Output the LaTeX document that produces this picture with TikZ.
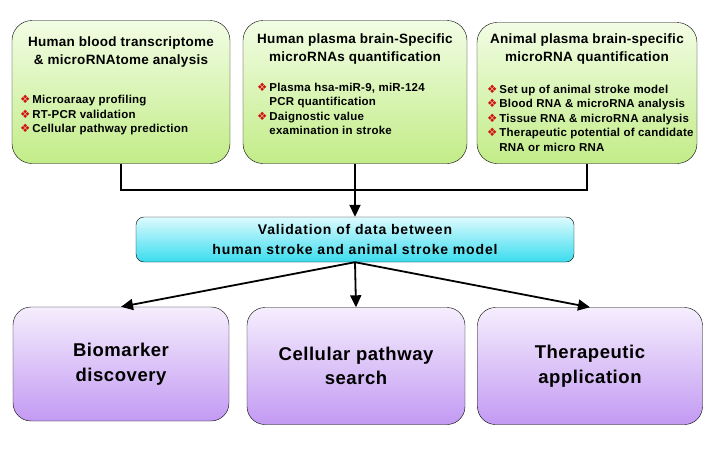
\documentclass[tikz,border=0pt]{standalone}
\usepackage{fontspec}
\setmainfont{Liberation Sans}
\newfontfamily\symfont{DejaVu Sans}
\newfontfamily\tifont[LetterSpace=2]{Liberation Sans}
\newfontfamily\vafont[LetterSpace=6]{Liberation Sans}
\newfontfamily\bofont[LetterSpace=3]{Liberation Sans}
\usetikzlibrary{arrows.meta}
\definecolor{grtop}{HTML}{F2FDE4}
\definecolor{grbot}{HTML}{C2EC88}
\definecolor{cytop}{HTML}{DDFBFF}
\definecolor{cybot}{HTML}{3ADCEE}
\definecolor{vitop}{HTML}{F5EEFD}
\definecolor{vibot}{HTML}{C39AF3}
\definecolor{bulred}{HTML}{D01010}
\newcommand{\bul}{{\color{bulred}\symfont\char"2756}\,}
\tikzset{tb/.style = {draw, thin, rounded corners=20pt, top color=grtop, bottom color=grbot},
           vb/.style = {draw, thin, rounded corners=8pt, top color=cytop, bottom color=cybot,
                        font=\vafont\bfseries\fontsize{14}{20}\selectfont, align=center},
           bb/.style = {draw, thin, rounded corners=18pt, top color=vitop, bottom color=vibot,
                        font=\bofont\bfseries\fontsize{18.5}{24.5}\selectfont, align=center},
           ti/.style = {font=\tifont\bfseries\fontsize{13.5}{18}\selectfont, align=center, inner sep=0pt},
           li/.style = {font=\tifont\bfseries\fontsize{11.5}{14.6}\selectfont, align=left, inner sep=0pt, anchor=north west}}

\begin{document}
\begin{tikzpicture}[x=1pt, y=-1pt, >={Triangle[length=12pt,width=11pt]}]
    \useasboundingbox (0,0) rectangle (713,448);
    % top row
    \node[tb, minimum width=218pt, minimum height=143pt] (t1) at (121,92) {};
    \node[tb, minimum width=224pt, minimum height=143pt] (t2) at (355,92) {};
    \node[tb, minimum width=220pt, minimum height=141pt] (t3) at (587,93) {};
    \node[ti] (h1) at (121,52) {Human blood transcriptome\\ \& microRNAtome analysis};
    \node[ti] (h2) at (355,49.5) {Human plasma brain-Specific\\ microRNAs quantification};
    \node[ti] (h3) at (587,49) {Animal plasma brain-specific\\ microRNA quantification};
    \node[li] (l1) at (20,95) {\bul Microaraay profiling\\ \bul RT-PCR validation\\ \bul Cellular pathway prediction};
    \node[li] (l2) at (257,82.5) {\bul Plasma hsa-miR-9, miR-124\\ \hphantom{\bul}PCR quantification\\
        \bul Daignostic value\\ \hphantom{\bul}examination in stroke};
    \node[li] (l3) at (487,84.5) {\bul Set up of animal stroke model\\ \bul Blood RNA \& microRNA analysis\\
        \bul Tissue RNA \& microRNA analysis\\ \bul Therapeutic potential of candidate\\ \hphantom{\bul}RNA or micro RNA};
    % middle
    \node[vb, minimum width=438pt, minimum height=45pt] (val) at (355,239.5)
        {Validation of data between\\ human stroke and animal stroke model};
    \coordinate (hub) at (355,190);
    % bottom row
    \node[bb, minimum width=216pt, minimum height=114pt] (b1) at (121,364) {Biomarker\\ discovery};
    \node[bb, minimum width=218pt, minimum height=117pt] (b2) at (356,366) {Cellular pathway\\ search};
    \node[bb, minimum width=225pt, minimum height=117pt] (b3) at (590,366) {Therapeutic\\ application};
    % connectors
    \draw[line width=1.8pt] (t1.south) |- (hub) -| (t3.south);
    \draw[line width=1.8pt, ->] (t2.south) -- (val.north);
    \draw[line width=1.8pt, ->] (val.south) -- (b1.north);
    \draw[line width=1.8pt, ->] (val.south) -- (b2.north);
    \draw[line width=1.8pt, ->] (val.south) -- (b3.north);
\end{tikzpicture}
\end{document}
